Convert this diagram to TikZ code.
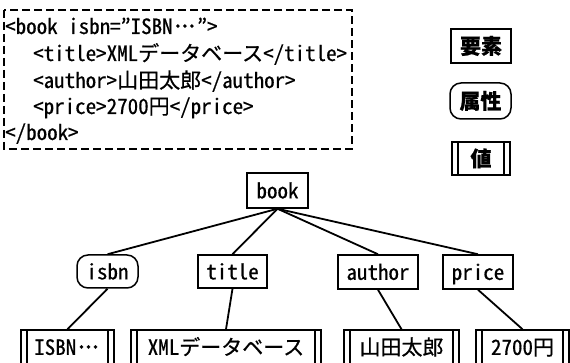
\documentclass[tikz,border=0pt]{standalone}
\usepackage{fontspec}
\setmainfont{Noto Sans CJK JP}[FakeBold=0.6]
\newfontfamily\hw{Noto Sans CJK JP}[CharacterWidth=Half, FakeBold=0.6]
\newcommand{\dotsjp}{{\hw ･\kern-3.5pt･\kern-3.5pt･}}
\begin{document}
\begin{tikzpicture}[x=1pt,y=-1pt,
  font=\fontsize{21}{24}\selectfont,
  box/.style={draw, line width=1.5pt, inner sep=0pt, text height=15.8pt, text depth=0pt, align=center},
  elem/.style={box, rectangle},
  attr/.style={box, rounded corners=11pt},
  val/.style={box, path picture={
      \draw[line width=1.3pt]
        ([xshift=6pt]path picture bounding box.north west) -- ([xshift=6pt]path picture bounding box.south west)
        ([xshift=-6pt]path picture bounding box.north east) -- ([xshift=-6pt]path picture bounding box.south east);}},
  codeline/.style={anchor=base west, inner sep=0pt},
  frame/.style={line width=1.7pt, dash pattern=on 8pt off 4pt},
  link/.style={line width=1.8pt}]
\clip (0,0) rectangle (570,363);
\fill[white] (0,0) rectangle (570,363);

% XML source
\draw[frame] (4,10) rectangle (352,149);
\node[codeline] (c1) at (5,34)   {{\hw <book isbn=”ISBN}\dotsjp{\hw ”>}};
\node[codeline] (c2) at (33,61)  {{\hw <title>XML}データベース{\hw </title>}};
\node[codeline] (c3) at (33,88)  {{\hw <author>}山田太郎{\hw </author>}};
\node[codeline] (c4) at (33,114) {{\hw <price>2700}円{\hw </price>}};
\node[codeline] (c5) at (5,140)  {\hw </book>};

% legend
\node[elem, minimum width=60pt, minimum height=34pt] (lg1) at (481,46) {\bfseries 要素};
\node[attr, minimum width=61pt, minimum height=36pt] (lg2) at (480.5,101) {\bfseries 属性};
\node[val,  minimum width=58pt, minimum height=33pt] (lg3) at (481,158.5) {\bfseries 値};

% tree
\node[elem, minimum width=61pt, minimum height=35pt] (book) at (277.5,190.5) {\hw book};
\node[attr, minimum width=61pt, minimum height=33pt] (isbn) at (107.5,271.5) {\hw isbn};
\node[elem, minimum width=69pt, minimum height=33pt] (title) at (232.5,271.5) {\hw title};
\node[elem, minimum width=80pt, minimum height=34pt] (author) at (378,272) {\hw author};
\node[elem, minimum width=70pt, minimum height=34pt] (price) at (478,272) {\hw price};

\node[val, minimum width=93pt, minimum height=34pt] (v1) at (67.5,347) {{\hw ISBN}\dotsjp};
\node[val, minimum width=190pt, minimum height=34pt] (v2) at (226,347) {{\hw XML}データベース};
\node[val, minimum width=115pt, minimum height=34pt] (v3) at (401.5,347) {山田太郎};
\node[val, minimum width=93pt, minimum height=34pt] (v4) at (522.5,347) {{\hw 2700}円};

\draw[link] (book.south) -- (isbn.north);
\draw[link] (book.south) -- (title.north);
\draw[link] (book.south) -- (author.north);
\draw[link] (book.south) -- (price.north);
\draw[link] (isbn.south) -- (v1.north);
\draw[link] (title.south) -- (v2.north);
\draw[link] (author.south) -- (v3.north);
\draw[link] (price.south) -- (v4.north);
\end{tikzpicture}
\end{document}
